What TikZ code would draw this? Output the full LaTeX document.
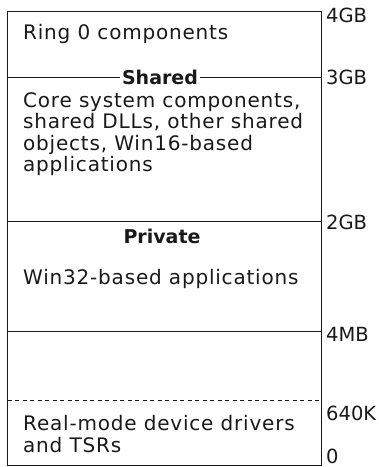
\documentclass[tikz,border=0pt]{standalone}
\usepackage{fontspec}
\setmainfont{DejaVu Sans}[LetterSpace=4]
\newfontfamily\titrefont{DejaVu Sans}[LetterSpace=0]
\usepackage{tikz}
\usepackage{xcolor}
\definecolor{trait}{RGB}{25,25,25}

\begin{document}
\begin{tikzpicture}[x=1pt,y=-1pt,font=\fontsize{20}{21.5}\selectfont,
	zone/.style={anchor=base west,inner sep=0pt,text=trait},
	adresse/.style={anchor=base west,inner sep=0pt,text=trait,font=\titrefont\fontsize{19.5}{21.5}\selectfont},
	titre/.style={anchor=base,inner sep=2pt,fill=white,text=trait,font=\titrefont\bfseries\fontsize{19}{21.5}\selectfont}]
				\useasboundingbox (0,0) rectangle (379,467);
				\coordinate (hg) at (7.5,11);
				\coordinate (bd) at (321,465);
				\foreach \n/\y in {a/77,b/221,c/331,d/400}{
					\coordinate (g\n) at (7.5,\y);
					\coordinate (d\n) at (321,\y);
				}
				
				\draw[trait,line width=1pt] (hg) rectangle (bd);
				\draw[trait,line width=1pt] (ga)--(da);
				\draw[trait,line width=1pt] (gb)--(db);
				\draw[trait,line width=1pt] (gc)--(dc);
				\draw[trait,line width=1pt,dash pattern=on 4pt off 3.5pt] (gd)--(dd);
				
				\node[zone] (ring) at (23,39) {Ring 0 components};
				\node[titre] (shared) at (160,84) {Shared};
				\node[zone] (core1) at (23,107) {Core system components,};
				\node[zone] (core2) at (23,128.5) {shared DLLs, other shared};
				\node[zone] (core3) at (23,150) {objects, Win16-based};
				\node[zone] (core4) at (23,171.5) {applications};
				\node[titre] (private) at (162,243) {Private};
				\node[zone] (win32) at (23,284) {Win32-based applications};
				\node[zone] (real1) at (23,430) {Real-mode device drivers};
				\node[zone] (real2) at (23,452) {and TSRs};
				
				\node[adresse] (g4) at (326,22) {4GB};
				\node[adresse] (g3) at (326,84) {3GB};
				\node[adresse] (g2) at (326,229) {2GB};
				\node[adresse] (m4) at (326,341) {4MB};
				\node[adresse] (k640) at (326,420) {640K};
				\node[adresse] (zero) at (326,463.5) {0};
			\end{tikzpicture}
\end{document}
